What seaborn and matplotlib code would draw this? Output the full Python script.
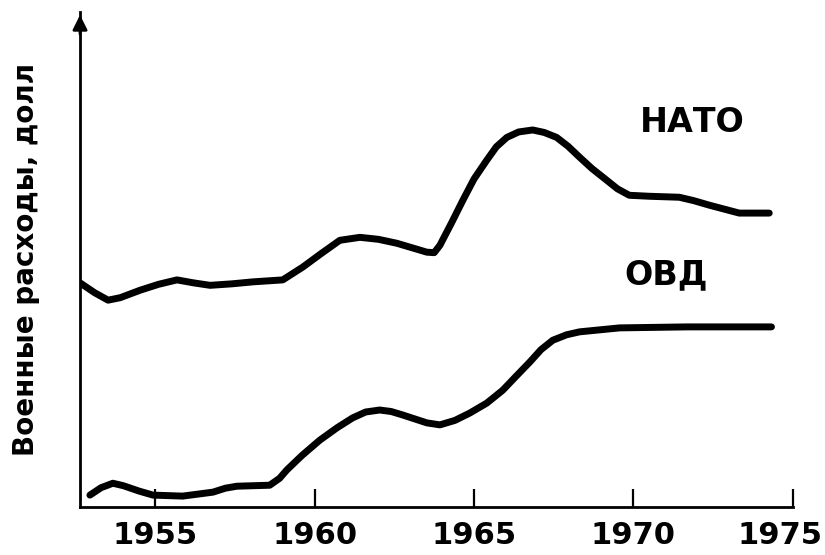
import matplotlib
matplotlib.use("Agg")
import matplotlib.pyplot as plt
import matplotlib.transforms as mtransforms
import seaborn as sns

# NATO spending curve (arbitrary units, axis 0..100)
nato_years = [1952.64, 1953.1, 1953.52, 1953.9, 1954.52, 1955.1, 1955.68,
              1956.2, 1956.72, 1957.4, 1958.06, 1959.0, 1959.63, 1960.2,
              1960.79, 1961.42, 1962.0, 1962.58, 1963.52, 1963.75, 1963.93,
              1964.3, 1964.65, 1965.0, 1965.40, 1965.7, 1966.03, 1966.4,
              1966.84, 1967.2, 1967.59, 1967.95, 1968.31, 1968.7, 1969.15,
              1969.5, 1969.87, 1970.5, 1971.44, 1971.9, 1972.38, 1973.32,
              1974.26]
nato_values = [45.3, 43.3, 41.8, 42.3, 43.8, 45.0, 45.9,
               45.3, 44.8, 45.1, 45.5, 45.9, 48.5, 51.2,
               53.9, 54.5, 54.1, 53.3, 51.5, 51.4, 52.9,
               57.5, 62.0, 66.3, 70.1, 72.8, 74.7, 75.8,
               76.2, 75.7, 74.7, 72.9, 70.7, 68.4, 66.1,
               64.3, 63.0, 62.8, 62.6, 61.9, 61.0, 59.4,
               59.4]

# Warsaw Pact (ОВД) spending curve
ovd_years = [1952.95, 1953.3, 1953.67, 1954.0, 1954.5, 1954.93, 1955.86,
             1956.81, 1957.2, 1957.56, 1958.59, 1958.9, 1959.13, 1959.6,
             1960.16, 1960.7, 1961.19, 1961.6, 1962.04, 1962.4, 1962.76,
             1963.52, 1963.93, 1964.4, 1964.87, 1965.4, 1965.90, 1966.3,
             1966.75, 1967.1, 1967.47, 1967.9, 1968.31, 1969.57, 1971.67,
             1974.33]
ovd_values = [2.4, 3.9, 4.8, 4.3, 3.2, 2.4, 2.2,
              3.0, 3.8, 4.2, 4.4, 5.8, 7.5, 10.4,
              13.5, 16.0, 18.0, 19.2, 19.6, 19.3, 18.6,
              17.0, 16.6, 17.5, 19.0, 21.0, 23.6, 26.3,
              29.3, 31.8, 33.7, 34.8, 35.4, 36.2, 36.4,
              36.4]

year_ticks = [1955, 1960, 1965, 1970, 1975]
series_labels = ["НАТО", "ОВД"]
y_label = "Военные расходы, долл"

sns.set_style("ticks")
plt.rcParams["font.family"] = ["DejaVu Sans"]
plt.rcParams["text.color"] = "black"
plt.rcParams["axes.labelcolor"] = "black"
plt.rcParams["xtick.color"] = "black"

fig = plt.figure(figsize=(8.25, 5.55), dpi=100)
ax = fig.add_axes([0.097, 0.0865, 0.864, 0.8915])

line_kw = dict(color="black", linewidth=5, solid_capstyle="round",
               solid_joinstyle="round")
sns.lineplot(x=nato_years, y=nato_values, ax=ax, **line_kw)
sns.lineplot(x=ovd_years, y=ovd_values, ax=ax, **line_kw)

ax.set_xlim(1952.64, 1975.0)
ax.set_ylim(0, 100)

sns.despine(ax=ax)
for side in ("left", "bottom"):
    ax.spines[side].set_linewidth(2)
    ax.spines[side].set_color("black")

ax.set_xticks(year_ticks)
ax.set_xticklabels([str(y) for y in year_ticks], fontsize=22, fontweight="bold")
ax.tick_params(axis="x", direction="in", length=13, width=1.6, pad=10)
ax.set_yticks([])

# last label sits a bit left of its tick, as in the original
last = ax.get_xticklabels()[-1]
last.set_transform(last.get_transform() +
                   mtransforms.ScaledTranslation(-13 / 100, 0, fig.dpi_scale_trans))

# arrow at the top of the y axis
ax.annotate("", xy=(0, 1.0), xytext=(0, 0.95), xycoords="axes fraction",
            arrowprops=dict(arrowstyle="-|>", color="black", lw=2,
                            mutation_scale=22))

ax.set_ylabel(y_label, fontsize=20, fontweight="bold")
ax.yaxis.set_label_coords(-0.056, 0.5)

ax.text(1971.86, 77.8, series_labels[0], fontsize=24, fontweight="bold",
        ha="center", va="center")
ax.text(1971.04, 47.0, series_labels[1], fontsize=24, fontweight="bold",
        ha="center", va="center")

fig.savefig("out.png", dpi=100)
